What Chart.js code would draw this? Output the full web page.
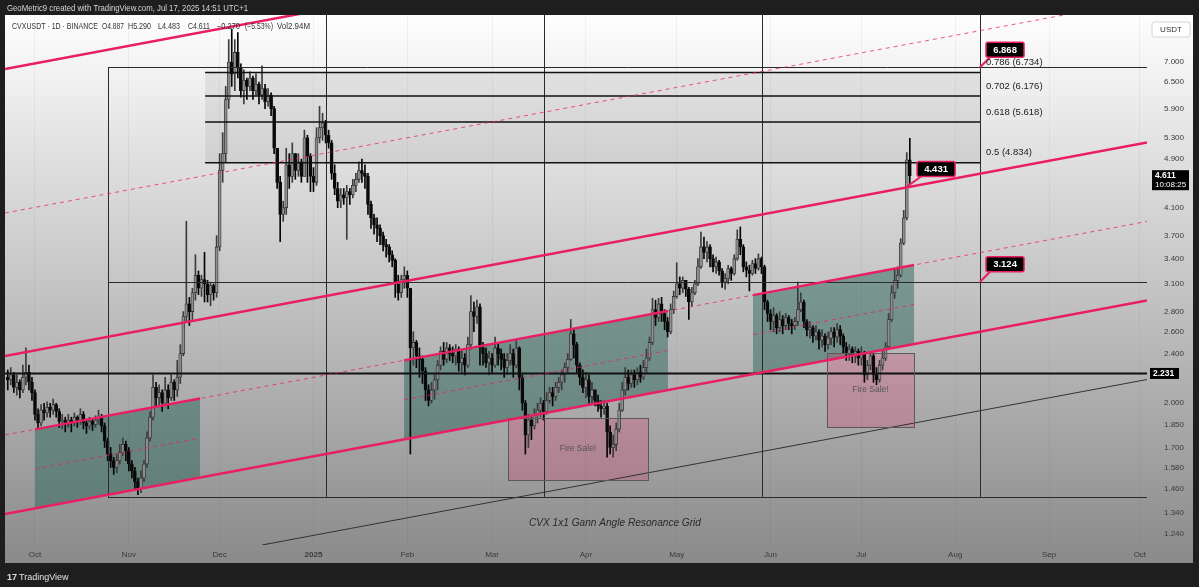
<!DOCTYPE html>
<html><head><meta charset="utf-8">
<script src="https://cdn.jsdelivr.net/npm/chart.js@4.4.1/dist/chart.umd.min.js"></script>
<style>
html,body{margin:0;padding:0;background:#1e1e1e;overflow:hidden}
#wrap{position:relative;width:1199px;height:587px}
</style></head><body>
<div id="wrap"><canvas id="c"></canvas></div>
<script>
// ---------- DATA ----------
// day index: 0 = Oct 1, 2024 ; first candle = Sep 22, 2024 ; last = Jul 17, 2025 (day 289)
const firstDay = -9;
const firstOpen = 2.20;
const closes = [
2.18,2.22,2.12,2.16,2.10,2.20,2.24,2.16,2.08,1.92,
1.86,1.95,1.93,1.97,1.95,1.99,1.94,1.87,1.88,1.85,
1.88,1.86,1.90,1.87,1.92,1.86,1.84,1.87,1.85,1.88,
1.90,1.84,1.74,1.66,1.62,1.58,1.62,1.67,1.72,1.68,
1.60,1.56,1.50,1.46,1.52,1.60,1.76,1.90,2.12,2.04,
2.08,2.00,2.10,2.04,2.16,2.10,2.20,2.40,2.75,2.88,
2.80,3.00,3.20,3.05,3.15,3.10,2.98,3.08,3.00,3.55,
4.70,5.00,6.10,7.00,6.70,7.25,6.85,6.30,6.55,6.40,
6.60,6.30,6.45,6.20,6.35,6.05,6.20,5.90,5.10,4.50,
4.00,4.10,4.80,4.60,5.00,4.70,4.85,4.60,5.30,4.95,
4.60,4.50,5.30,5.50,5.60,5.35,5.20,4.65,4.40,4.20,
4.30,4.25,4.35,4.30,4.45,4.55,4.70,4.65,4.60,4.15,
3.95,3.85,3.80,3.70,3.58,3.55,3.45,3.38,3.10,3.00,
3.15,3.20,3.05,2.45,2.50,2.38,2.35,2.25,2.10,2.02,
2.10,2.18,2.30,2.42,2.35,2.45,2.40,2.38,2.44,2.32,
2.36,2.30,2.48,2.80,2.75,2.85,2.45,2.40,2.32,2.36,
2.30,2.45,2.40,2.35,2.28,2.34,2.40,2.30,2.45,2.20,
2.00,1.78,1.88,1.84,1.92,1.95,2.00,1.94,2.02,2.08,
2.05,2.12,2.16,2.22,2.28,2.35,2.58,2.48,2.30,2.20,
2.12,2.18,2.05,2.10,2.02,1.98,1.96,1.98,1.80,1.70,
1.72,1.82,1.95,2.10,2.20,2.15,2.22,2.18,2.24,2.20,
2.28,2.36,2.50,2.82,2.74,2.88,2.78,2.70,2.60,2.82,
2.96,3.10,3.05,3.14,3.04,2.90,3.00,3.10,3.30,3.55,
3.48,3.55,3.40,3.30,3.36,3.25,3.12,3.16,3.28,3.22,
3.40,3.65,3.55,3.30,3.26,3.22,3.34,3.28,3.40,3.30,
2.90,2.78,2.70,2.76,2.64,2.72,2.66,2.74,2.68,2.66,
2.70,2.82,2.90,2.70,2.62,2.64,2.56,2.60,2.52,2.56,
2.48,2.54,2.60,2.55,2.62,2.56,2.46,2.40,2.44,2.38,
2.42,2.36,2.40,2.22,2.30,2.38,2.22,2.18,2.30,2.36,
2.46,2.72,3.00,3.14,3.20,3.60,3.95,4.887,4.611];
const highs = [
2.26,2.28,2.24,2.22,2.18,2.30,2.45,2.30,2.20,2.10,
1.96,1.99,2.00,2.01,2.00,2.03,2.00,1.96,1.92,1.90,
1.92,1.90,1.93,1.91,1.96,1.94,1.88,1.90,1.89,1.91,
1.95,1.92,1.86,1.76,1.70,1.64,1.66,1.72,1.76,1.74,
1.70,1.62,1.58,1.52,1.56,1.62,1.80,1.94,2.22,2.16,
2.14,2.10,2.20,2.14,2.22,2.18,2.34,2.48,2.80,3.90,
2.95,3.05,3.45,3.25,3.20,3.48,3.14,3.12,3.10,3.70,
5.00,5.40,6.40,7.60,7.90,7.60,7.80,6.95,6.80,6.60,
6.75,6.65,6.70,6.50,6.90,6.45,6.35,6.25,5.95,5.10,
4.60,4.20,5.10,5.00,5.20,5.00,5.00,4.90,5.45,5.35,
5.00,4.75,5.50,5.95,5.80,5.65,5.45,5.25,4.80,4.50,
4.40,4.40,4.45,4.40,4.55,4.65,4.85,4.90,4.80,4.65,
4.20,4.00,3.95,3.85,3.75,3.65,3.58,3.50,3.40,3.20,
3.20,3.30,3.25,2.95,2.60,2.52,2.45,2.38,2.28,2.14,
2.16,2.22,2.34,2.46,2.50,2.50,2.48,2.46,2.48,2.46,
2.42,2.40,2.55,2.97,2.90,2.92,2.88,2.50,2.45,2.42,
2.40,2.55,2.50,2.44,2.40,2.40,2.48,2.44,2.52,2.46,
2.22,2.02,1.92,1.90,1.96,2.00,2.04,2.02,2.08,2.12,
2.12,2.16,2.20,2.26,2.32,2.40,2.72,2.62,2.50,2.32,
2.26,2.24,2.22,2.16,2.10,2.06,2.02,2.02,2.00,1.84,
1.78,1.86,2.00,2.16,2.28,2.26,2.26,2.26,2.28,2.30,
2.34,2.44,2.55,2.94,2.92,2.94,2.95,2.82,2.74,2.88,
3.02,3.35,3.18,3.18,3.14,3.06,3.06,3.14,3.40,3.75,
3.68,3.62,3.58,3.45,3.42,3.38,3.28,3.22,3.32,3.30,
3.45,3.78,3.82,3.58,3.36,3.32,3.38,3.40,3.46,3.42,
3.32,2.92,2.82,2.84,2.78,2.80,2.76,2.78,2.76,2.72,
2.74,3.12,3.00,2.92,2.72,2.70,2.66,2.66,2.62,2.62,
2.58,2.60,2.64,2.64,2.68,2.66,2.58,2.50,2.48,2.46,
2.46,2.44,2.46,2.42,2.34,2.42,2.40,2.28,2.34,2.42,
2.50,2.78,3.08,3.28,3.30,3.66,4.06,5.02,5.29];
const lows = [
2.10,2.14,2.08,2.06,2.04,2.08,2.14,2.10,2.02,1.88,
1.82,1.84,1.88,1.90,1.90,1.92,1.90,1.83,1.82,1.80,
1.83,1.80,1.84,1.83,1.85,1.82,1.79,1.82,1.81,1.83,
1.85,1.80,1.70,1.62,1.58,1.54,1.55,1.60,1.65,1.62,
1.56,1.52,1.46,1.43,1.44,1.50,1.58,1.74,1.88,1.98,
1.98,1.94,1.98,1.96,2.02,2.02,2.05,2.15,2.38,2.70,
2.66,2.72,2.92,2.98,2.96,2.90,2.90,2.86,2.92,2.95,
3.50,4.50,4.85,5.90,6.40,6.30,6.60,6.15,6.00,6.10,
6.30,6.10,6.20,6.00,6.10,5.90,5.95,5.75,5.00,4.40,
3.62,3.90,4.00,4.40,4.50,4.55,4.60,4.50,4.60,4.50,
4.35,4.35,4.45,5.20,5.25,5.20,5.10,4.55,4.30,4.10,
4.10,4.15,3.65,4.15,4.25,4.35,4.50,4.50,4.40,4.00,
3.80,3.72,3.62,3.58,3.50,3.42,3.36,3.30,2.95,2.92,
2.95,3.05,2.95,1.66,2.30,2.28,2.20,2.15,2.02,1.98,
2.00,2.03,2.10,2.26,2.30,2.32,2.34,2.32,2.30,2.25,
2.24,2.22,2.28,2.44,2.60,2.68,2.30,2.30,2.28,2.22,
2.24,2.28,2.30,2.26,2.20,2.22,2.30,2.20,2.28,2.10,
1.95,1.66,1.70,1.75,1.82,1.86,1.90,1.88,1.92,2.00,
1.98,2.02,2.08,2.10,2.16,2.24,2.34,2.36,2.24,2.14,
2.08,2.04,2.00,2.00,1.98,1.94,1.90,1.92,1.64,1.66,
1.64,1.68,1.80,1.94,2.06,2.10,2.12,2.12,2.14,2.16,
2.18,2.24,2.34,2.48,2.66,2.70,2.70,2.62,2.55,2.58,
2.78,2.94,2.98,3.00,2.96,2.72,2.86,2.98,3.08,3.28,
3.40,3.36,3.30,3.24,3.22,3.20,3.06,3.04,3.10,3.14,
3.20,3.38,3.45,3.24,3.18,3.02,3.20,3.22,3.26,3.22,
2.82,2.70,2.62,2.60,2.58,2.60,2.58,2.62,2.62,2.58,
2.62,2.66,2.80,2.64,2.56,2.54,2.50,2.52,2.44,2.46,
2.42,2.44,2.48,2.46,2.50,2.48,2.40,2.34,2.34,2.32,
2.32,2.30,2.30,2.16,2.18,2.26,2.16,2.14,2.16,2.26,
2.34,2.44,2.70,2.94,3.05,3.18,3.58,3.92,4.483];

const priceTicks = [7.0,6.5,5.9,5.3,4.9,4.1,3.7,3.4,3.1,2.8,2.6,2.4,2.0,1.85,1.7,1.58,1.46,1.34,1.24];
const monthDays = [0,31,61,92,123,151,182,212,243,273,304,335,365];
const monthLabels = ['Oct','Nov','Dec','2025','Feb','Mar','Apr','May','Jun','Jul','Aug','Sep','Oct'];
const dayRange = [-9.91, 367.36];
const priceRange = [1.1885, 8.318];

// drawings, in (day, price)
const channelLines = [[0,6.964,300,12.99],[0,2.428,300,4.529],[0,1.359,300,2.536]];
const midLines = [[0,4.105,300,7.656],[0,1.817,300,3.389]];
const innerChannels = [[0,54.5],[121.9,209.1],[237.2,290.4]];
const gannRay = [75.0,1.1885,300,1.897];
const gridDays = [24.1,96.1,168.2,240.2,312.2];
const gridLevels = [6.868,3.124,1.418];
const supportLevel = 2.231;
const fibLevels = [6.734,6.176,5.618,4.834];
const fibLabels = ['0.786 (6.734)','0.702 (6.176)','0.618 (5.618)','0.5 (4.834)'];
const fibSpan = [56.2,312.2];
const fireSaleBoxes = [[156.3,1.895,202.5,1.509],[261.6,2.405,290.4,1.833]];
const fireSaleText = 'Fire Sale!';
const callouts = [[312.2,6.868,'6.868'],[288.1,4.431,'4.431'],[312.2,3.124,'3.124']];
const titleAt = [191.6,1.289];
const titleText = 'CVX 1x1 Gann Angle Resonance Grid';
const lastPrice = 4.611;
const lastPriceTimer = '10:08:25';

// ---------- BUILD ----------
const candles = closes.map((c,i)=>{
  const o = i===0 ? firstOpen : closes[i-1];
  return {x:firstDay+i, o, c, h:Math.max(highs[i],o,c), l:Math.min(lows[i],o,c)};
});
const FONT = '"Liberation Sans", Arial, sans-serif';
const PINK = '#e91e63';
const calloutOffsets = [6,10,6];

function lineAt(L,d,X,Y){const x1=X(L[0]),y1=Y(L[1]),x2=X(L[2]),y2=Y(L[3]);return y1+(y2-y1)*(X(d)-x1)/(x2-x1);}
function seg(ctx,L,d1,d2,X,Y){ctx.beginPath();ctx.moveTo(X(d1),lineAt(L,d1,X,Y));ctx.lineTo(X(d2),lineAt(L,d2,X,Y));ctx.stroke();}
function rrect(ctx,x,y,w,h,r){ctx.beginPath();ctx.moveTo(x+r,y);ctx.lineTo(x+w-r,y);ctx.quadraticCurveTo(x+w,y,x+w,y+r);ctx.lineTo(x+w,y+h-r);ctx.quadraticCurveTo(x+w,y+h,x+w-r,y+h);ctx.lineTo(x+r,y+h);ctx.quadraticCurveTo(x,y+h,x,y+h-r);ctx.lineTo(x,y+r);ctx.quadraticCurveTo(x,y,x+r,y);ctx.closePath();}

const annot = {
  id:'annot',
  beforeDraw(chart){
    const ctx=chart.ctx, ca=chart.chartArea;
    ctx.save();
    const top=ca.top, bottom=ca.bottom+18;
    const g=ctx.createLinearGradient(0,top,0,bottom);
    g.addColorStop(0,'#fefefe'); g.addColorStop(1,'#8a8a8a');
    ctx.fillStyle=g; ctx.fillRect(ca.left,top,ca.right+46-ca.left,bottom-top);
    ctx.restore();
  },
  beforeDatasetsDraw(chart){
    const ctx=chart.ctx, ca=chart.chartArea;
    const X=d=>chart.scales.x.getPixelForValue(d), Y=p=>chart.scales.y.getPixelForValue(p);
    ctx.save();
    ctx.beginPath(); ctx.rect(ca.left,ca.top,ca.right-ca.left,ca.bottom-ca.top); ctx.clip();
    ctx.fillStyle='rgba(110,110,110,0.12)';
    ctx.fillRect(X(fibSpan[0]),Y(fibLevels[0]),X(fibSpan[1])-X(fibSpan[0]),Y(fibLevels[3])-Y(fibLevels[0]));
    ctx.fillStyle='rgba(38,100,85,0.48)';
    innerChannels.forEach(([d1,d2])=>{
      ctx.beginPath();
      ctx.moveTo(X(d1),lineAt(midLines[1],d1,X,Y));
      ctx.lineTo(X(d2),lineAt(midLines[1],d2,X,Y));
      ctx.lineTo(X(d2),lineAt(channelLines[2],d2,X,Y));
      ctx.lineTo(X(d1),lineAt(channelLines[2],d1,X,Y));
      ctx.closePath(); ctx.fill();
    });
    fireSaleBoxes.forEach(([d1,p1,d2,p2])=>{
      ctx.fillStyle='rgba(233,30,99,0.22)';
      ctx.fillRect(X(d1),Y(p1),X(d2)-X(d1),Y(p2)-Y(p1));
    });
    ctx.restore();
  },
  afterDatasetsDraw(chart){
    const ctx=chart.ctx, ca=chart.chartArea;
    const X=d=>chart.scales.x.getPixelForValue(d), Y=p=>chart.scales.y.getPixelForValue(p);
    const L0=dayRange[0], L1=dayRange[1];
    ctx.save();
    ctx.beginPath(); ctx.rect(ca.left,ca.top,ca.right-ca.left,ca.bottom-ca.top); ctx.clip();
    ctx.strokeStyle='#2a2a2a'; ctx.lineWidth=1;
    gridLevels.forEach(p=>{const y=Math.round(Y(p))+0.5;ctx.beginPath();ctx.moveTo(X(gridDays[0]),y);ctx.lineTo(ca.right,y);ctx.stroke();});
    gridDays.forEach((d,i)=>{const x=Math.round(X(d))+0.5;ctx.beginPath();ctx.moveTo(x,i===0?Y(gridLevels[0]):ca.top);ctx.lineTo(x,Y(gridLevels[2]));ctx.stroke();});
    ctx.strokeStyle='#111'; ctx.lineWidth=1.5;
    fibLevels.forEach(p=>{const y=Y(p);ctx.beginPath();ctx.moveTo(X(fibSpan[0]),y);ctx.lineTo(X(fibSpan[1]),y);ctx.stroke();});
    ctx.strokeStyle='#111'; ctx.lineWidth=2;
    ctx.beginPath();ctx.moveTo(ca.left,Y(supportLevel));ctx.lineTo(ca.right,Y(supportLevel));ctx.stroke();
    ctx.strokeStyle='#333'; ctx.lineWidth=1;
    seg(ctx,gannRay,gannRay[0],L1,X,Y);
    fireSaleBoxes.forEach(([d1,p1,d2,p2])=>{
      ctx.strokeStyle='#5a5a5a'; ctx.lineWidth=1;
      ctx.strokeRect(Math.round(X(d1))+0.5,Math.round(Y(p1))+0.5,Math.round(X(d2)-X(d1)),Math.round(Y(p2)-Y(p1)));
      ctx.fillStyle='#555'; ctx.font='8.5px '+FONT; ctx.textAlign='center'; ctx.textBaseline='middle';
      ctx.fillText(fireSaleText,(X(d1)+X(d2))/2,(Y(p1)+Y(p2))/2);
    });
    ctx.setLineDash([4,4]); ctx.strokeStyle='rgba(233,30,99,0.75)'; ctx.lineWidth=1;
    midLines.forEach(L=>seg(ctx,L,L0,L1,X,Y));
    innerChannels.forEach(([d1,d2])=>{
      ctx.beginPath();
      ctx.moveTo(X(d1),(lineAt(midLines[1],d1,X,Y)+lineAt(channelLines[2],d1,X,Y))/2);
      ctx.lineTo(X(d2),(lineAt(midLines[1],d2,X,Y)+lineAt(channelLines[2],d2,X,Y))/2);
      ctx.stroke();
    });
    ctx.setLineDash([]);
    ctx.strokeStyle=PINK; ctx.lineWidth=2.5;
    channelLines.forEach(L=>seg(ctx,L,L0,L1,X,Y));
    innerChannels.forEach(([d1,d2])=>seg(ctx,midLines[1],d1,d2,X,Y));
    ctx.restore();

    ctx.save();
    callouts.forEach(([d,p,t],i)=>{
      const ax=X(d), ay=Y(p), bx=ax+calloutOffsets[i], by=ay-25, w=38, h=15;
      ctx.strokeStyle=PINK; ctx.lineWidth=2;
      ctx.beginPath(); ctx.moveTo(ax,ay); ctx.lineTo(bx+4,by+h); ctx.stroke();
      rrect(ctx,bx,by,w,h,2); ctx.fillStyle='#000'; ctx.fill(); ctx.lineWidth=1.5; ctx.stroke();
      ctx.fillStyle='#fff'; ctx.font='bold 9.5px '+FONT; ctx.textAlign='center'; ctx.textBaseline='middle';
      ctx.fillText(t,bx+w/2,by+h/2+0.5);
    });
    ctx.fillStyle='#222'; ctx.font='9.5px '+FONT; ctx.textAlign='left'; ctx.textBaseline='middle';
    fibLevels.forEach((p,i)=>ctx.fillText(fibLabels[i],X(fibSpan[1])+6,Y(p)-10));
    ctx.fillStyle='#2a2a2a'; ctx.font='italic 10.5px '+FONT; ctx.textAlign='center';
    ctx.fillText(titleText,X(titleAt[0]),Y(titleAt[1]),172);
    ctx.restore();
  },
  afterDraw(chart){
    const ctx=chart.ctx, ca=chart.chartArea;
    const Y=p=>chart.scales.y.getPixelForValue(p);
    ctx.save();
    const ly=Y(lastPrice);
    ctx.fillStyle='#000'; ctx.fillRect(ca.right+5,ly-5.5,37,20);
    ctx.fillStyle='#fff'; ctx.textAlign='left'; ctx.textBaseline='middle';
    ctx.font='bold 8.5px '+FONT; ctx.fillText(lastPrice.toFixed(3),ca.right+8,ly);
    ctx.font='8px '+FONT; ctx.fillText(lastPriceTimer,ca.right+8,ly+9.5);
    const sy=Y(supportLevel);
    ctx.fillStyle='#000'; ctx.fillRect(ca.right+3,sy-5.5,29,11);
    ctx.fillStyle='#fff'; ctx.font='bold 8.5px '+FONT; ctx.fillText(supportLevel.toFixed(3),ca.right+6,sy+0.5);
    rrect(ctx,ca.right+5,ca.top+7,38,15,2); ctx.fillStyle='#fff'; ctx.fill(); ctx.strokeStyle='#d4d4d4'; ctx.lineWidth=1; ctx.stroke();
    ctx.fillStyle='#333'; ctx.font='8px '+FONT; ctx.textAlign='center'; ctx.fillText('USDT',ca.right+24,ca.top+15);
    ctx.textAlign='left'; ctx.fillStyle='#d6d6d6'; ctx.font='8.5px '+FONT;
    ctx.fillText('GeoMetric9 created with TradingView.com, Jul 17, 2025 14:51 UTC+1',7,8.5,241);
    ctx.fillStyle='#333'; ctx.font='8.5px '+FONT;
    const legend=[['CVXUSDT · 1D · BINANCE',12,86],['O4.887',102,22],['H5.290',128,23],['L4.483',158,22],['C4.611',188,22],['−0.270',217,23],['(−5.53%)',245,28],['Vol2.94M',277,33]];
    legend.forEach(([t,x,w])=>ctx.fillText(t,x,27,w));
    ctx.fillStyle='#e0e0e0'; ctx.font='bold 9px '+FONT; ctx.fillText('17',7,578,10);
    ctx.font='9px '+FONT; ctx.fillText('TradingView',19,578);
    ctx.restore();
  }
};

new Chart(document.getElementById('c'),{
  type:'bar',
  data:{datasets:[
    {label:'wick',data:candles.map(k=>({x:k.x,y:[k.l,k.h]})),
     backgroundColor:candles.map(k=>k.c>=k.o?'#3c3c3c':'#050505'),
     barThickness:1,grouped:false,borderWidth:0,order:2},
    {label:'body',data:candles.map(k=>({x:k.x,y:[k.o,k.c]})),
     backgroundColor:candles.map(k=>k.c>=k.o?'#8e8e8e':'#0a0a0a'),
     borderColor:candles.map(k=>k.c>=k.o?'#333333':'#0a0a0a'),
     borderWidth:0.8,borderSkipped:false,barThickness:3,grouped:false,order:1}
  ]},
  options:{
    responsive:true,maintainAspectRatio:false,animation:false,
    layout:{padding:{left:5,right:6,top:15,bottom:24}},
    plugins:{legend:{display:false},tooltip:{enabled:false}},
    scales:{
      x:{type:'linear',min:dayRange[0],max:dayRange[1],offset:false,
        afterBuildTicks:s=>{s.ticks=monthDays.map(v=>({value:v}));},
        afterFit:s=>{s.height=18;},
        grid:{color:'rgba(0,0,0,0.045)',drawTicks:false,offset:false},border:{display:false},
        ticks:{autoSkip:false,maxRotation:0,padding:5,color:'#3a3a3a',
          font:c=>({family:FONT,size:8,weight:c.index===3?'bold':'normal'}),
          callback:(v,i)=>monthLabels[i]}},
      y:{type:'logarithmic',position:'right',min:priceRange[0],max:priceRange[1],
        afterBuildTicks:s=>{s.ticks=priceTicks.map(v=>({value:v}));},
        afterFit:s=>{s.width=46;},
        grid:{display:false},border:{display:false},
        ticks:{autoSkip:false,padding:9,color:'#3a3a3a',font:{family:FONT,size:8},
          callback:v=>Number(v).toFixed(3)}}
    }
  },
  plugins:[annot]
});
</script></body></html>
